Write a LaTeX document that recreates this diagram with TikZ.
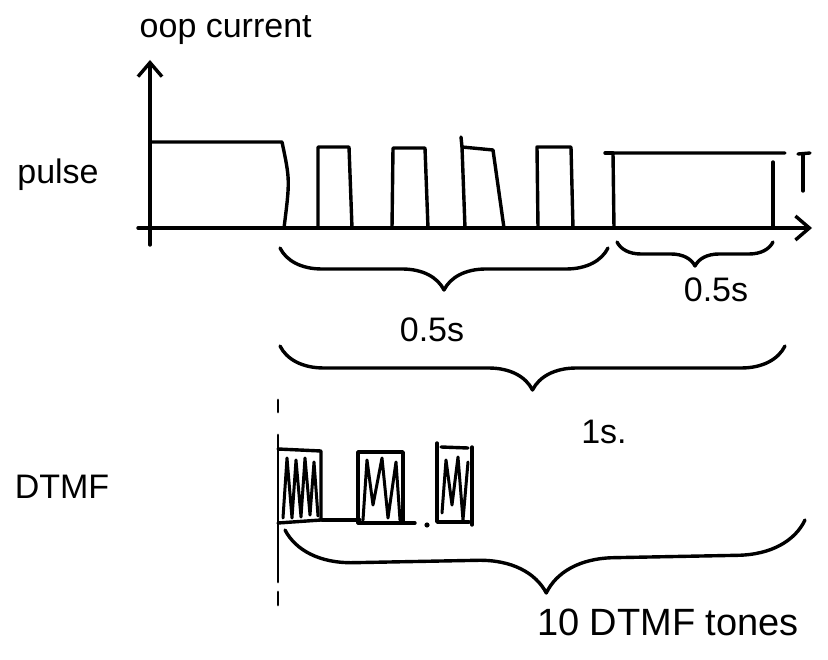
\documentclass[tikz,border=0pt]{standalone}
\usepackage{fontspec}
\setmainfont{Liberation Sans}
\usetikzlibrary{decorations.pathreplacing,arrows.meta}
\begin{document}
\begin{tikzpicture}[x=1pt,y=-1pt,line width=3.4pt,line cap=round,line join=round,
  lbl/.style={font=\fontsize{34}{38}\selectfont,inner sep=0pt},
  br/.style={decorate,decoration={brace,mirror,amplitude=#1}},
  zig/.style={line width=3pt}]
\useasboundingbox (0,0) rectangle (828,660);
% axes
\coordinate (yb) at (150,245);
\coordinate (yt) at (150,60);
\coordinate (xl) at (138,228);
\coordinate (xr) at (812,228);
\draw[-{Straight Barb[length=14pt,width=24pt]}] (yb) -- (yt);
\draw[-{Straight Barb[length=14pt,width=24pt]}] (xl) -- (xr);
\node[lbl,anchor=west] (ylab) at (138,30) {oop current};
\node[lbl] (pulse) at (58,175) {pulse};
% pulse waveform
\draw (150,142) -- (282,142) .. controls (290,180) .. (284,228) -- (318,228) -- (318,147) -- (349,147) -- (352,228)
  -- (392,228) -- (393,148) -- (425,148) -- (428,228) -- (465,228) -- (462,147) -- (493,150) -- (504,228)
  -- (538,228) -- (537,147) -- (571,147) -- (573,228) -- (614,228) -- (613,153) -- (785,153);
\draw (461,137) -- (462,147);
\draw (605,153) -- (613,153);
\draw (773,162) -- (773,228);
\draw (803,155) -- (803,191);
\draw (798,154) -- (810,153);
% braces
\draw[br=42pt] (280,248) -- (608,248);
\node[lbl] (t05a) at (432,330) {0.5s};
\draw[br=24pt] (617,242) -- (773,242);
\node[lbl] (t05b) at (716,290) {0.5s};
\draw[br=44pt] (280,346) -- (785,346);
\node[lbl] (t1) at (604,432) {1s.};
% dashed marker
\draw[line width=2.8pt] (278,400) -- (278,412);
\draw[line width=2.8pt] (278,435) -- (278,582);
\draw[line width=2.8pt] (278,592) -- (278,605);
% DTMF
\node[lbl] (dtmf) at (62,487) {DTMF};
\draw (278,449) -- (321,451) -- (321,520) -- (278,523);
\draw (322,520) -- (360,520);
\draw (358,523) -- (358,452) -- (403,452) -- (403,523) -- (358,523);
\draw (403,523) -- (415,523);
\fill (427,525) circle (2.6pt);
\draw (437,443) -- (437,522) -- (469,522);
\draw (441,447) -- (468,448);
\draw (472,447) -- (472,525);
\draw[zig] (283,518) -- (287,458) -- (292,518) -- (296,460) -- (301,517) -- (305,458) -- (310,515) -- (314,462) -- (318,516);
\draw[zig] (363,520) -- (367,460) -- (373,505) -- (382,458) -- (388,518) -- (396,462) -- (400,520);
\draw[zig] (442,513) -- (446,460) -- (452,505) -- (458,457) -- (463,520) -- (468,462);
\draw[br=68pt] (285,530) -- (805,520);
\node[lbl,font=\fontsize{38}{42}\selectfont] (tones) at (668,622) {10 DTMF tones};
\end{tikzpicture}
\end{document}
